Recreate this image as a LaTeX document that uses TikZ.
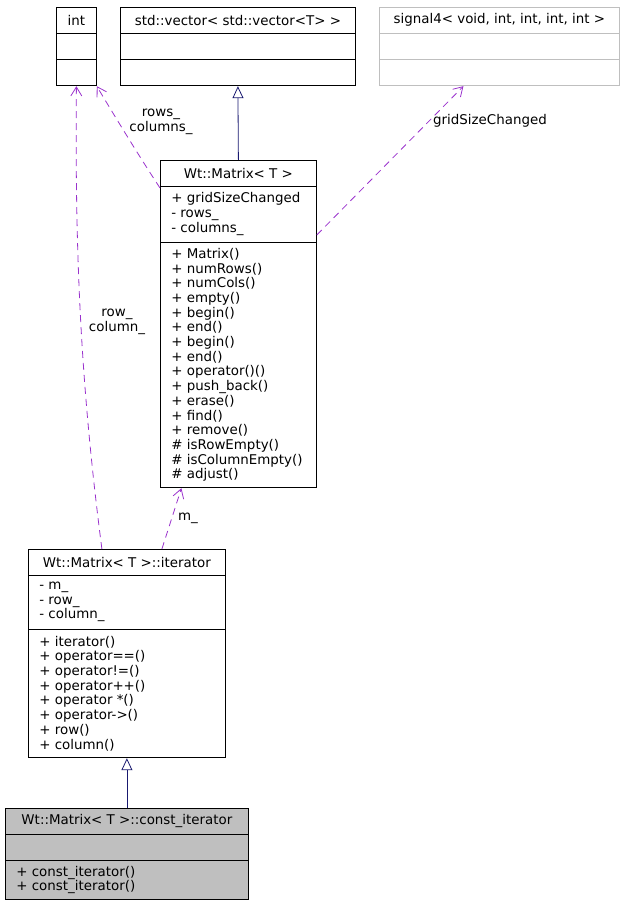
\documentclass[tikz,border=0pt]{standalone}
\usepackage{fontspec}
\setmainfont{DejaVu Sans}
\usetikzlibrary{shapes.multipart,arrows.meta}

\definecolor{usecol}{HTML}{9A32CD}
\definecolor{inhcol}{HTML}{191970}
\definecolor{greybox}{HTML}{BFBFBF}

\newcommand{\clshead}[2]{\parbox[c][25pt][c]{#1pt}{\centering #2}}
\newcommand{\clsbody}[3]{\parbox[c][#2pt][c]{#1pt}{\raggedright\leftskip=11pt\relax #3}}

\begin{document}
\begin{tikzpicture}[x=1pt,y=-1pt,
		cls/.style={rectangle split, rectangle split parts=3, draw, line width=0.8pt, inner sep=0pt, anchor=north west},
		uses/.style={draw=usecol, line width=0.8pt, dash pattern=on 7pt off 5pt, -{Straight Barb[length=9pt,width=11pt]}},
		inherit/.style={draw=inhcol, line width=0.8pt, -{Triangle[open,length=12pt,width=11pt,fill=white]}},
		lbl/.style={inner sep=2pt, align=center},
		font=\fontsize{13.4}{14.7}\selectfont]
	\useasboundingbox (0,0) rectangle (624,904);

	\node[cls] (int) at (56,7) {\clshead{40}{int}\nodepart{two}\clsbody{40}{25}{}\nodepart{three}\clsbody{40}{26}{}};
	\node[cls] (vector) at (120,7) {\clshead{235}{std::vector<\ std::vector<T> >}\nodepart{two}\clsbody{235}{25}{}\nodepart{three}\clsbody{235}{26}{}};
	\node[cls, draw=greybox] (signal) at (379,7) {\clshead{240}{signal4<\ void, int, int, int, int >}\nodepart{two}\clsbody{240}{25}{}\nodepart{three}\clsbody{240}{26}{}};

	\node[cls] (matrix) at (160,160) {\clshead{156}{Wt::Matrix<\ T >}
		\nodepart{two}\clsbody{156}{55}{+ gridSizeChanged\\- rows\_\\- columns\_}
		\nodepart{three}\clsbody{156}{245}{+ Matrix()\\+ numRows()\\+ numCols()\\+ empty()\\+ begin()\\+ end()\\+ begin()\\+ end()\\+ operator()()\\+ push\_back()\\+ erase()\\+ find()\\+ remove()\\\# isRowEmpty()\\\# isColumnEmpty()\\\# adjust()}};

	\node[cls] (iter) at (28,549) {\clshead{197}{Wt::Matrix<\ T >::iterator}
		\nodepart{two}\clsbody{197}{53}{- m\_\\- row\_\\- column\_}
		\nodepart{three}\clsbody{197}{128}{+ iterator()\\+ operator==()\\+ operator!=()\\+ operator++()\\+ operator *()\\+ operator->()\\+ row()\\+ column()}};

	\node[cls, fill=greybox] (citer) at (5,808) {\clshead{243}{Wt::Matrix<\ T >::const\_iterator}
		\nodepart{two}\clsbody{243}{25}{}
		\nodepart{three}\clsbody{243}{39}{+ const\_iterator()\\+ const\_iterator()}};

	\draw[inherit] (matrix.north) -- (vector.south);
	\draw[inherit] (citer.north) -- (iter.south);

	\draw[uses] ([xshift=35pt]iter.north) -- ([xshift=-57pt]matrix.south) node[midway, right, lbl, xshift=4pt] (lblm) {m\_};
	\draw[uses] ([xshift=-25pt]iter.north) .. controls (80,380) and (75,250) .. (int.south);
	\node[lbl] (lblrow) at (117,322) {row\_\\column\_};
	\draw[uses] ([yshift=-28pt]matrix.north west) .. controls (135,150) and (105,100) .. (int.south east);
	\node[lbl] (lblrows) at (161,122) {rows\_\\columns\_};
	\draw[uses] ([yshift=-75pt]matrix.north east) -- ([xshift=-36pt]signal.south);
	\node[lbl, anchor=west] (lblgrid) at (431,121) {gridSizeChanged};
\end{tikzpicture}
\end{document}
